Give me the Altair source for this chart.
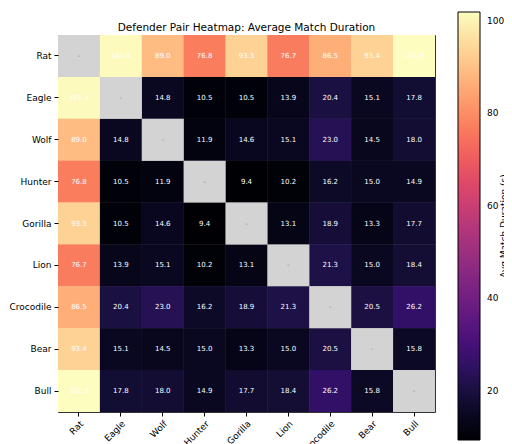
import altair as alt
import pandas as pd

animals = ["Rat", "Eagle", "Wolf", "Hunter", "Gorilla", "Lion", "Crocodile", "Bear", "Bull"]

rat = [None, 101.4, 89.0, 76.8, 93.3, 76.7, 86.5, 93.4, 101.9]
eagle = [101.4, None, 14.8, 10.5, 10.5, 13.9, 20.4, 15.1, 17.8]
wolf = [89.0, 14.8, None, 11.9, 14.6, 15.1, 23.0, 14.5, 18.0]
hunter = [76.8, 10.5, 11.9, None, 9.4, 10.2, 16.2, 15.0, 14.9]
gorilla = [93.3, 10.5, 14.6, 9.4, None, 13.1, 18.9, 13.3, 17.7]
lion = [76.7, 13.9, 15.1, 10.2, 13.1, None, 21.3, 15.0, 18.4]
crocodile = [86.5, 20.4, 23.0, 16.2, 18.9, 21.3, None, 20.5, 26.2]
bear = [93.4, 15.1, 14.5, 15.0, 13.3, 15.0, 20.5, None, 15.8]
bull = [101.9, 17.8, 18.0, 14.9, 17.7, 18.4, 26.2, 15.8, None]

matrix = [rat, eagle, wolf, hunter, gorilla, lion, crocodile, bear, bull]
legend_ticks = [20, 40, 60, 80, 100]
legend_title = ["Avg Match Duration (s)"]
chart_title = ["Defender Pair Heatmap: Average Match Duration"]

records = []
for i, r in enumerate(animals):
    for j, c in enumerate(animals):
        v = matrix[i][j]
        records.append({"row": r, "col": c, "value": v,
                        "label": "-" if v is None else f"{v:.1f}"})
df = pd.DataFrame(records)

vals = [v for row in matrix for v in row if v is not None]
vmin, vmax = min(vals), max(vals)

FONT = "DejaVu Sans"
W = 377
H = 377

base = alt.Chart(df).encode(
    x=alt.X("col:N", sort=animals, title=None,
            axis=alt.Axis(labelAngle=-45, labelAlign="right", labelBaseline="top",
                          labelFontSize=9, labelFont=FONT, labelColor="black",
                          tickColor="black", tickSize=4, domain=False, labelPadding=3)),
    y=alt.Y("row:N", sort=animals, title=None,
            axis=alt.Axis(labelFontSize=9, labelFont=FONT, labelColor="black",
                          tickColor="black", tickSize=4, domain=False, labelPadding=3)),
)

color_enc = alt.Color("value:Q",
                      scale=alt.Scale(scheme="magma", domain=[vmin, vmax]),
                      legend=alt.Legend(
                          orient="none", legendX=400, legendY=-23,
                          direction="vertical",
                          gradientLength=428, gradientThickness=22,
                          gradientStrokeColor="black", gradientStrokeWidth=1,
                          values=legend_ticks,
                          labelFontSize=9, labelFont=FONT, labelColor="black",
                          labelOffset=7,
                          title=None,
                      ))

heat = base.transform_filter("datum.value != null").mark_rect().encode(color=color_enc)
# second identical pass hides anti-aliasing seams between cells
heat2 = base.transform_filter("datum.value != null").mark_rect().encode(color=color_enc)

diag = base.transform_filter("datum.value == null").mark_rect(color="#d3d3d3")

text = base.mark_text(fontSize=7, font=FONT).encode(
    text="label:N",
    color=alt.condition("datum.value == null", alt.value("#888888"), alt.value("white")),
)

cbar_title = alt.Chart(pd.DataFrame({"t": legend_title})).mark_text(
    angle=270, fontSize=9, font=FONT, color="black", align="center", baseline="middle"
).encode(x=alt.value(446), y=alt.value(191), text="t:N")

title_mark = alt.Chart(pd.DataFrame({"t": chart_title})).mark_text(
    fontSize=10.5, font=FONT, color="black", align="center", baseline="bottom"
).encode(x=alt.value(W / 2), y=alt.value(-2), text="t:N")

chart = alt.layer(heat, heat2, diag, text, cbar_title, title_mark).properties(
    width=W, height=H,
    autosize="none",
    padding={"left": 50, "top": 27, "right": 69, "bottom": 32},
).configure_view(stroke="#333333", strokeWidth=1)

chart.save("out.html", embed_options={"renderer": "svg", "actions": False})
